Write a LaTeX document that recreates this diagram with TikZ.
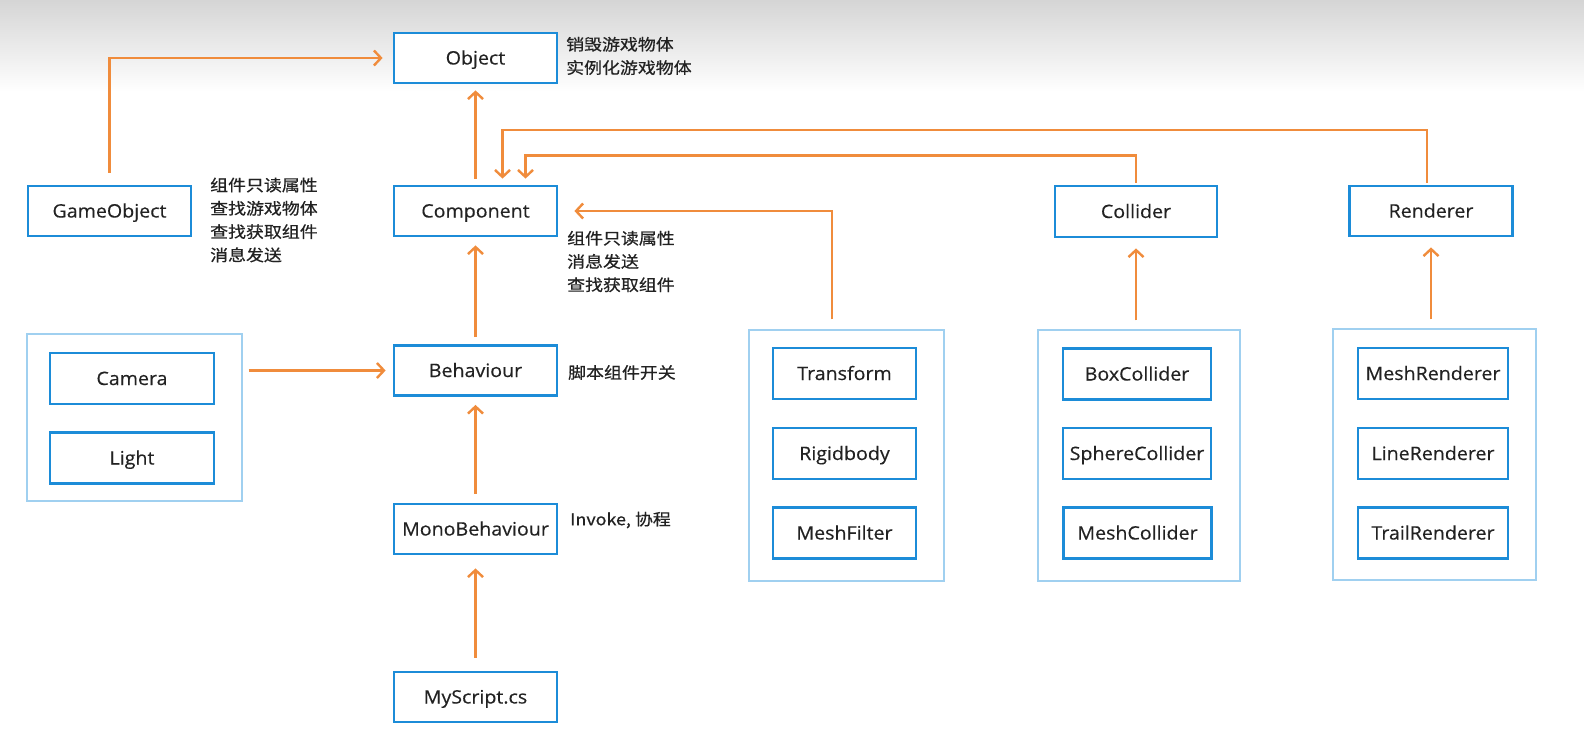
\documentclass[tikz,border=0pt]{standalone}
\usepackage{fontspec}
\setmainfont{Open Sans}[FakeStretch=1.06,FakeBold=0.35]
\newfontfamily\cjk{Noto Sans CJK SC}[FakeStretch=1.12,FakeBold=0.6]
\usetikzlibrary{arrows.meta,fit}
\definecolor{boxblue}{RGB}{28,140,216}
\definecolor{grpblue}{RGB}{160,208,240}
\definecolor{arrorange}{RGB}{240,140,60}
\definecolor{topgray}{RGB}{213,213,213}
\definecolor{txt}{RGB}{34,34,34}
\begin{document}
\begin{tikzpicture}[x=1pt,y=-1pt,
  box/.style={draw=boxblue,line width=2.8pt,fill=white,minimum width=163pt,minimum height=50pt,inner sep=0pt,text=txt,text height=13pt,text depth=0pt,font=\fontsize{18.5}{22}\selectfont},
  sbox/.style={box,minimum width=145pt},
  grp/.style={draw=grpblue,line width=1.3pt,inner sep=0pt},
  arr/.style={draw=arrorange,line width=2.4pt,-{Straight Barb[length=7pt,width=15pt,line width=2.4pt]}},
  lab/.style={font=\cjk\fontsize{16}{23.3}\selectfont,text=txt,align=left,anchor=west,inner sep=0pt}]
\useasboundingbox (0,0) rectangle (1584,739);
\fill[white] (0,0) rectangle (1584,739);
\shade[top color=topgray,bottom color=white] (0,0) rectangle (1584,92);

% groups
\node[grp,minimum width=215pt,minimum height=167pt] (cgrp) at (134.5,417.5) {};
\node[grp,minimum width=195pt,minimum height=251pt] (tgrp) at (846.5,455.5) {};
\node[grp,minimum width=202pt,minimum height=251pt] (colgrp) at (1139,455.5) {};
\node[grp,minimum width=203pt,minimum height=251pt] (rengrp) at (1434.5,454.5) {};

% main boxes
\node[box] (obj) at (475.5,58) {Object};
\node[box] (go) at (109.5,211) {GameObject};
\node[box] (comp) at (475.5,211) {Component};
\node[box,minimum width=162pt,minimum height=51pt] (col) at (1136,211.5) {Collider};
\node[box] (ren) at (1431,211) {Renderer};
\node[box] (beh) at (475.5,370.5) {Behaviour};
\node[box] (mono) at (475.5,529) {MonoBehaviour};
\node[box] (my) at (475.5,697) {MyScript.cs};

\node[box,minimum width=164pt,minimum height=51pt] (cam) at (132,378.5) {Camera};
\node[box,minimum width=164pt,minimum height=51pt] (light) at (132,458) {Light};

\node[sbox,minimum width=143pt,minimum height=51pt] (tr) at (844.5,373.5) {Transform};
\node[sbox,minimum width=143pt,minimum height=51pt] (rb) at (844.5,453.5) {Rigidbody};
\node[sbox,minimum width=143pt,minimum height=51pt] (mf) at (844.5,533) {MeshFilter};

\node[sbox,minimum width=148pt,minimum height=51pt] (bc) at (1137,374) {BoxCollider};
\node[sbox,minimum width=148pt,minimum height=51pt] (sc) at (1137,453.5) {SphereCollider};
\node[sbox,minimum width=148pt,minimum height=51pt] (mc) at (1137.5,533) {MeshCollider};

\node[sbox,minimum width=150pt,minimum height=51pt] (mr) at (1433,373.5) {MeshRenderer};
\node[sbox,minimum width=150pt,minimum height=51pt] (lr) at (1433,453.5) {LineRenderer};
\node[sbox,minimum width=150pt,minimum height=51pt] (trr) at (1433,533) {TrailRenderer};

% labels
\node[lab] (lobj) at (566,56) {销毁游戏物体\\实例化游戏物体};
\node[lab] (lgo) at (210,220) {组件只读属性\\查找游戏物体\\查找获取组件\\消息发送};
\node[lab] (lcomp) at (567,261.5) {组件只读属性\\消息发送\\查找获取组件};
\node[lab] (lbeh) at (568,372.5) {脚本组件开关};
\node[lab] (lmono) at (570,520) {Invoke, 协程};

% arrows
\draw[arr,shorten <=12pt,shorten >=10pt] (go.north) |- (obj.west);
\draw[arr,shorten <=6pt,shorten >=6pt] (comp) -- (obj);
\draw[arr,shorten <=2pt,shorten >=6pt] (col.north) -- (col.north |- 0,155.5) -| ([xshift=50pt]comp.north);
\draw[arr,shorten <=2pt,shorten >=6pt] ([xshift=-4pt]ren.north) -- ([xshift=-4pt]ren.north |- 0,130) -| ([xshift=27pt]comp.north);
\draw[arr,shorten <=10pt,shorten >=16pt] ([xshift=-14.5pt]tgrp.north) |- (comp.east);
\draw[arr,shorten <=7pt,shorten >=8pt] (beh) -- (comp);
\draw[arr,shorten <=6pt,shorten >=7pt] (cgrp.east |- beh.west) -- (beh.west);
\draw[arr,shorten <=9pt,shorten >=8pt] (mono) -- (beh);
\draw[arr,shorten <=13pt,shorten >=13pt] (my) -- (mono);
\draw[arr,shorten <=9pt,shorten >=10pt] (colgrp.north -| col.south) -- (col.south);
\draw[arr,shorten <=9pt,shorten >=10pt] (rengrp.north -| ren.south) -- (ren.south);
\end{tikzpicture}
\end{document}
